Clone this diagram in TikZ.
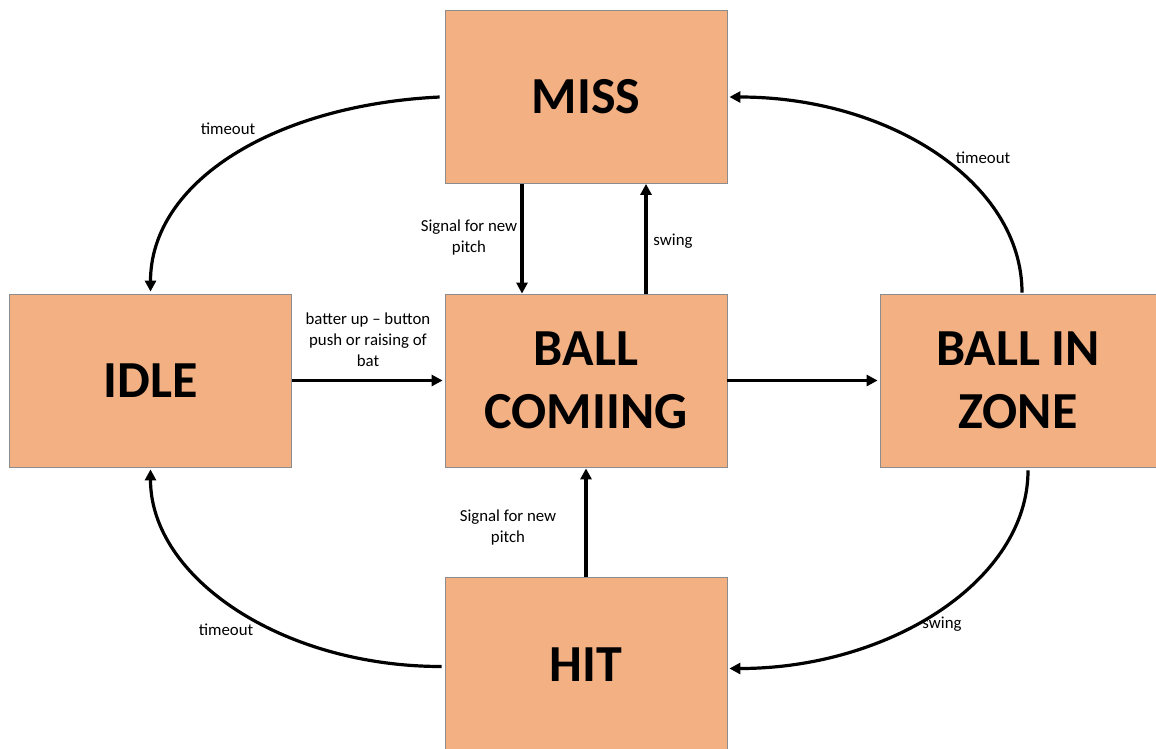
\documentclass[tikz,border=0pt]{standalone}
\usepackage{fontspec}
\setmainfont{Carlito}
\usetikzlibrary{arrows.meta}
\definecolor{boxfill}{RGB}{243,176,131}
\definecolor{boxline}{RGB}{140,140,140}
\tikzset{
  state/.style={draw=boxline, line width=0.8pt, fill=boxfill, minimum width=282pt, minimum height=173pt, inner sep=0pt, align=center, font=\fontsize{52}{63}\selectfont\bfseries},
  arr/.style={line width=3.2pt, -{Triangle[length=11pt,width=11pt]}},
  lbl/.style={font=\fontsize{16.8}{21}\selectfont, align=center, inner sep=0pt}
}
\begin{document}
\begin{tikzpicture}[x=1pt,y=-1pt]
\useasboundingbox (0,0) rectangle (1156,748);
\node[state] (miss) at (586,97) {MISS};
\node[state] (idle) at (150.5,380.5) {IDLE};
\node[state] (ball) at (586,380.5) {BALL\\COMIING};
\node[state, minimum width=276pt] (zone) at (1018,380.5) {BALL IN\\ZONE};
\node[state, minimum height=175pt] (hit) at (586,664.5) {HIT};
\coordinate (missL) at ([xshift=-5pt]miss.west);
\coordinate (missR) at ([xshift=2pt]miss.east);
\coordinate (idleT) at ([yshift=2pt]idle.north);
\coordinate (idleB) at ([yshift=-2pt]idle.south);
\coordinate (zoneT) at ([xshift=4pt,yshift=1pt]zone.north);
\coordinate (zoneB) at ([xshift=10pt,yshift=-3pt]zone.south);
\coordinate (hitL) at ([xshift=-3pt,yshift=-2pt]hit.west);
\coordinate (hitR) at ([xshift=2pt,yshift=-4pt]hit.east);
% curved transitions
\draw[arr] (missL) .. controls +(-165,8) and +(0,-110) .. (idleT);
\draw[arr] (zoneT) .. controls +(0,-110) and +(160,0) .. (missR);
\draw[arr] (zoneB) .. controls +(0,110) and +(160,0) .. (hitR);
\draw[arr] (hitL) .. controls +(-160,0) and +(0,108) .. (idleB);
% straight transitions
\draw[arr] (miss.south -| 522,0) -- (ball.north -| 522,0);
\draw[arr] (ball.north -| 646,0) -- (miss.south -| 646,0);
\draw[arr] (idle.east) -- ([xshift=-2pt]ball.west);
\draw[arr] (ball.east) -- ([xshift=-2pt]zone.west);
\draw[arr] (hit.north) -- ([yshift=-1pt]ball.south);
% labels
\node[lbl] (l1) at (228,129) {timeout};
\node[lbl] (l2) at (983,158) {timeout};
\node[lbl] (l3) at (942,624) {swing};
\node[lbl] (l4) at (226,630) {timeout};
\node[lbl] (l5) at (469,238) {Signal for new\\pitch};
\node[lbl] (l6) at (673,241) {swing};
\node[lbl] (l7) at (368,340) {batter up -- button\\push or raising of\\bat};
\node[lbl] (l8) at (508,528) {Signal for new\\pitch};
\end{tikzpicture}
\end{document}
